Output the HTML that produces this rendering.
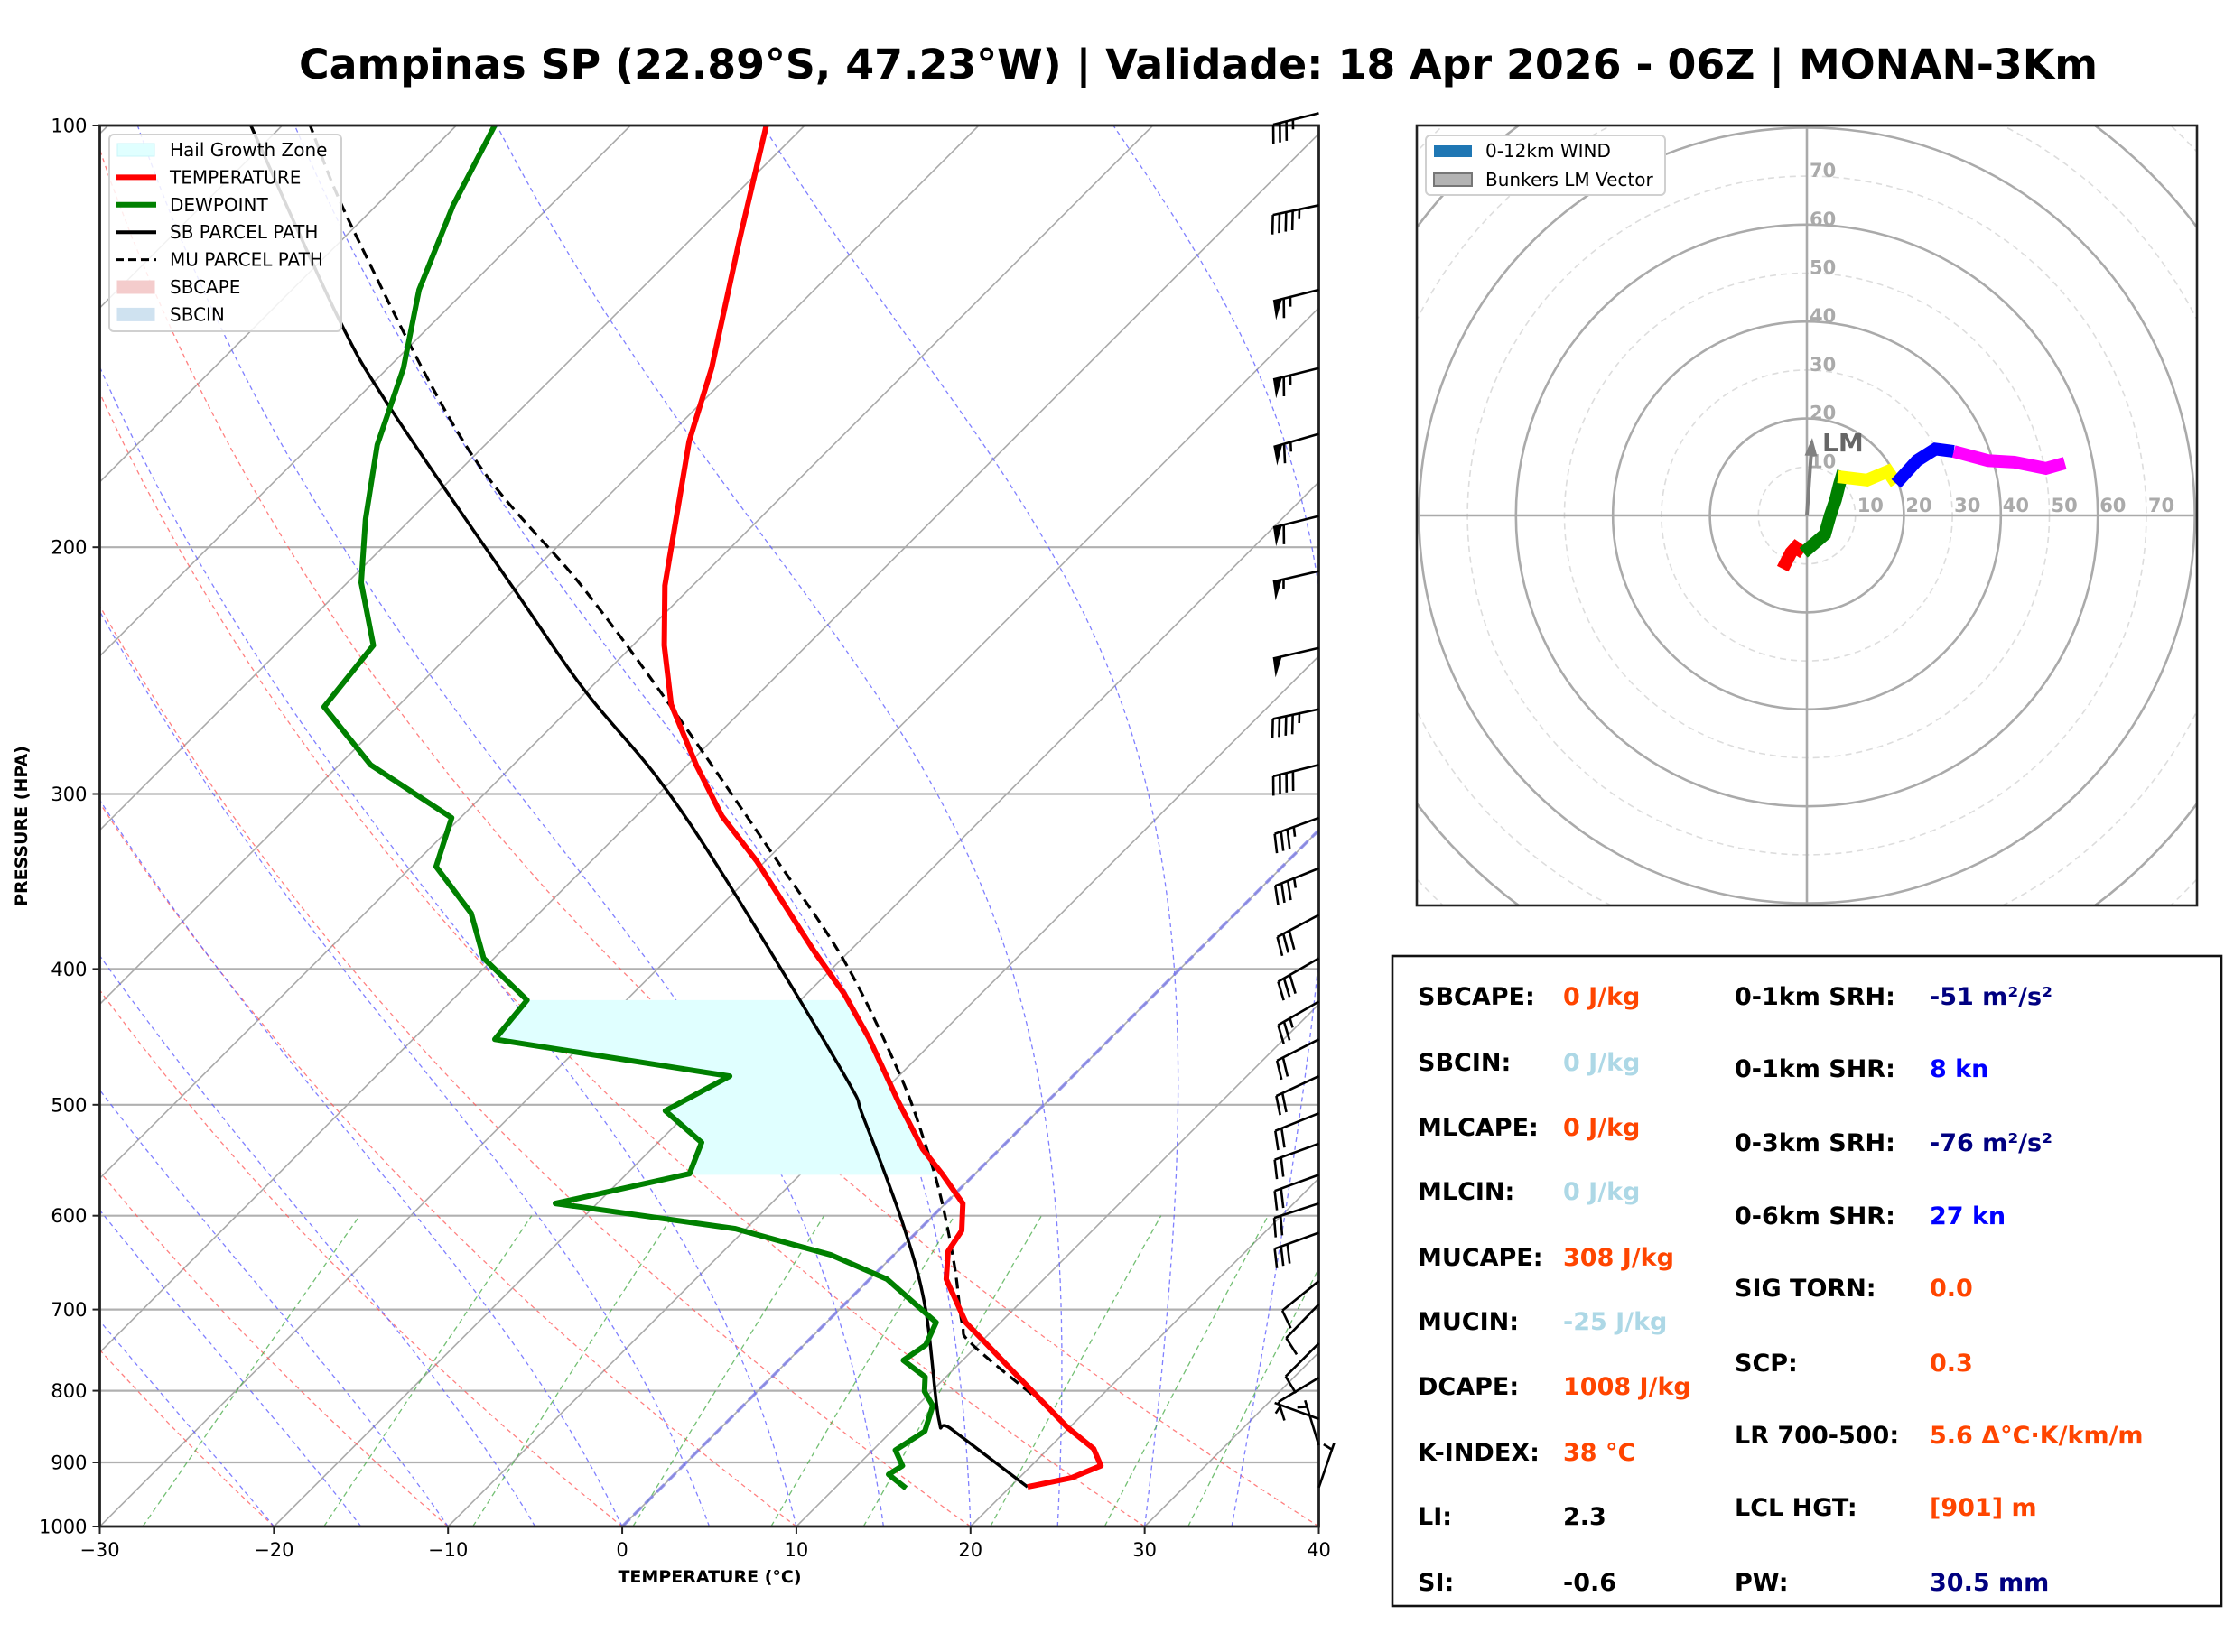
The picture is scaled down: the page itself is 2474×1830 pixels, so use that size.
<!DOCTYPE html>
<html><head><meta charset="utf-8"><title>Campinas SP Skew-T</title>
<style>
html,body{margin:0;padding:0;background:#fff;}
svg{display:block;font-family:"DejaVu Sans","Liberation Sans",sans-serif;}
</style></head>
<body>
<svg id="fig" xmlns="http://www.w3.org/2000/svg" width="2474" height="1830" viewBox="0 0 2474 1830">
<rect x="0" y="0" width="2474" height="1830" fill="#fff"/>
<text x="1327" y="87" text-anchor="middle" font-size="45" font-weight="bold" textLength="1992" lengthAdjust="spacingAndGlyphs">Campinas SP (22.89°S, 47.23°W) | Validade: 18 Apr 2026 - 06Z | MONAN-3Km</text>
<defs>
<clipPath id="skewClip"><rect x="110.5" y="139" width="1350" height="1552"/></clipPath>
<clipPath id="hodoClip"><rect x="1569" y="139" width="864" height="864"/></clipPath>
</defs>
<g id="skew"></g>
<g id="hodo"></g>
<g id="stats"></g>
</svg>
<script>
// ---------- Sounding data ----------
const tempP = [937,923,905,880,850,778,715,666,636,615,588,560,538,497,476,448,417,388,335,311,286,259,235,213,168,149,121,100];
const tempT = [21.0,23.0,24.0,22.6,19.9,13.8,8.0,4.4,2.9,2.5,1.0,-1.9,-4.4,-8.6,-10.8,-13.9,-17.8,-22.1,-30.5,-35.1,-39.5,-44.4,-48.2,-51.6,-58.5,-61.4,-67.1,-72.2];
const dewP = [939,918,905,882,855,820,801,782,761,742,715,666,640,613,588,560,532,505,477,449,421,393,365,338,312,286,260,235,212,191,169,149,131,114,100];
const dewT = [14.1,12.3,12.6,11.3,11.9,10.9,9.6,8.8,6.6,7.0,6.3,1.0,-3.6,-10.6,-22.4,-16.4,-17.5,-21.4,-19.7,-35.3,-35.7,-40.6,-43.9,-48.6,-50.5,-58.2,-64.2,-64.9,-69.2,-72.6,-76.2,-79.1,-82.7,-85.6,-87.8];
const sbP = [937,852,838,699,609,510,476,349,293,253,213,159,137,100];
const sbT = [21.0,13.3,12.0,4.9,-1.2,-9.7,-13.2,-30.6,-40.8,-50.2,-60.4,-77.6,-85.8,-101.8];
const muP = [819,742,717,653,585,533,476,395,330,259,213,170,119,100];
const muT = [17.3,9.7,7.9,4.2,-0.4,-4.6,-10.0,-19.7,-30.2,-44.5,-56.4,-70.8,-89.8,-98.4];
const hgzTop = 421;
const hgzBottom = 561;
const barbP = [98,114,131,149,166,190,208,236,261,286,312,339,366,393,422,449,477,507,533,561,588,617,668,694,740,783,838,875,938];
const barbDir = [256,258,256,256,254,256,257,257,258,256,250,248,242,240,240,243,245,248,250,250,252,250,231,224,225,239,290,343,19];
const barbSpd = [35,45,65,65,65,60,55,50,45,40,35,35,30,30,25,20,20,20,20,20,20,30,10,10,10,10,5,5,5];
const xTicks = [-30,-20,-10,0,10,20,30,40];
const yTicks = [100,200,300,400,500,600,700,800,900,1000];
// ---------- Hodograph data ----------
const hodoU = [-5,-3.3,-2.3,-0.7, -0.7,3.7,4.8,5.9,6.7,7.5, 6.4,12.4,16.7,18.4, 18.4,22.7,26.5,30.3, 30.3,37.4,42.8,49.3,53.2];
const hodoV = [-11,-7.7,-6.6,-7.7, -7.7,-3.9,0,3.2,6.4,9.1, 8,7.3,9.1,6.6, 6.6,11.3,13.7,13.2, 13.2,11.3,11,9.7,10.8];
const hodoSeg = [0,0,0,0, 1,1,1,1,1,1, 2,2,2,2, 3,3,3,3, 4,4,4,4,4];
const hodoColors = ['#ff0000','#008000','#ffff00','#0000ff','#ff00ff'];
const lmU = 1.1, lmV = 16;
const ringLabels = [10,20,30,40,50,60,70];

const NS='http://www.w3.org/2000/svg';
function mk(tag,attrs,parent){const e=document.createElementNS(NS,tag);for(const k in attrs)e.setAttribute(k,attrs[k]);if(parent)parent.appendChild(e);return e;}

// ---------- Skew-T axes ----------
const L=110.5,R=1460.5,TOP=139,B=1691,PPD=(R-L)/70;
function yOf(p){return B-Math.log10(1000/p)*(B-TOP);}
function xOf(T,p){return L+(T+30)*PPD+(B-yOf(p));}
function pts(P,T){return P.map((p,i)=>xOf(T[i],p).toFixed(1)+','+yOf(p).toFixed(1)).join(' ');}
function smoothPath(P,T){const q=P.map((p,i)=>[xOf(T[i],p),yOf(p)]);let d='M'+q[0][0].toFixed(1)+','+q[0][1].toFixed(1);
for(let i=0;i<q.length-1;i++){const p0=q[Math.max(0,i-1)],p1=q[i],p2=q[i+1],p3=q[Math.min(q.length-1,i+2)];
const c1=[p1[0]+(p2[0]-p0[0])/6,p1[1]+(p2[1]-p0[1])/6],c2=[p2[0]-(p3[0]-p1[0])/6,p2[1]-(p3[1]-p1[1])/6];
d+=' C'+c1[0].toFixed(1)+','+c1[1].toFixed(1)+' '+c2[0].toFixed(1)+','+c2[1].toFixed(1)+' '+p2[0].toFixed(1)+','+p2[1].toFixed(1);}return d;}
function interp(P,V,p){for(let i=0;i<P.length-1;i++){const a=P[i],b=P[i+1];if((p<=a&&p>=b)){const f=(Math.log(a)-Math.log(p))/(Math.log(a)-Math.log(b));return V[i]+f*(V[i+1]-V[i]);}}return V[V.length-1];}

const skew=document.getElementById('skew');
const clipG=mk('g',{'clip-path':'url(#skewClip)'},skew);



for(const p of yTicks){const ln=mk('line',{x1:L,x2:R,y1:yOf(p),y2:yOf(p),stroke:'#b0b0b0','stroke-width':2.2},clipG);

}
for(let T=-140;T<=40;T+=10){const ln=mk('line',{x1:xOf(T,1000),y1:B,x2:xOf(T,100),y2:TOP,stroke:'#aaaaaa','stroke-width':1.6},clipG);

}
for(let T0=-30;T0<=40;T0+=10){const th=T0+273.15;const a=[];for(let p=1000;p>=100;p-=10){a.push(xOf(th*Math.pow(p/1000,0.2857)-273.15,p).toFixed(1)+','+yOf(p).toFixed(1));}
const pl=mk('polyline',{points:a.join(' '),fill:'none',stroke:'#ff5555','stroke-opacity':0.75,'stroke-width':1.3,'stroke-dasharray':'5,4'},clipG);

}
function esat(Tc){return 6.112*Math.exp(17.67*Tc/(Tc+243.5));}
function dTdp(T,p){const es=esat(T-273.15);const rs=0.622*es/(p-es);const Rd=287.04,Cp=1005.7,Lv=2.501e6;return (Rd*T+Lv*rs)/(p*(Cp+Lv*Lv*rs*0.622/(Rd*T*T)));}
for(let T0=-20;T0<=45;T0+=5){let T=T0+273.15,p=1000;const a=[xOf(T0,1000).toFixed(1)+','+B];const dp=-5;
while(p>100){const k1=dTdp(T,p);const k2=dTdp(T+k1*dp,p+dp);T+=0.5*(k1+k2)*dp;p+=dp;a.push(xOf(T-273.15,p).toFixed(1)+','+yOf(p).toFixed(1));}
const pl=mk('polyline',{points:a.join(' '),fill:'none',stroke:'#5555ff','stroke-opacity':0.75,'stroke-width':1.3,'stroke-dasharray':'5,4'},clipG);

}
const mixW=[0.0004,0.001,0.002,0.004,0.007,0.01,0.016,0.024,0.032];
for(const w of mixW){const a=[];for(let p=1000;p>=600;p-=10){const e=p*w/(0.622+w);const l=Math.log(e/6.112);const Td=243.5*l/(17.67-l);a.push(xOf(Td,p).toFixed(1)+','+yOf(p).toFixed(1));}
const pl=mk('polyline',{points:a.join(' '),fill:'none',stroke:'#44aa44','stroke-opacity':0.75,'stroke-width':1.3,'stroke-dasharray':'6,4'},clipG);

}
const zl=mk('line',{x1:xOf(0,1000),y1:B,x2:xOf(0,100),y2:TOP,stroke:'#7777ee','stroke-opacity':0.7,'stroke-width':3.5,'stroke-dasharray':'12,6'},clipG);


{const a=[],b=[];for(let p=hgzBottom;p>=hgzTop;p-=1){a.push(xOf(interp(tempP,tempT,p),p).toFixed(1)+','+yOf(p).toFixed(1));b.push(xOf(interp(dewP,dewT,p),p).toFixed(1)+','+yOf(p).toFixed(1));}
const pg=mk('polygon',{points:a.concat(b.reverse()).join(' '),fill:'#e0ffff'},clipG);

}
const sbl=mk('path',{d:smoothPath(sbP,sbT),fill:'none',stroke:'#000','stroke-width':3.5,'stroke-linejoin':'round'},clipG);


const mul=mk('path',{d:smoothPath(muP,muT),fill:'none',stroke:'#000','stroke-width':3.2,'stroke-dasharray':'12,7'},clipG);


const dwl=mk('polyline',{points:pts(dewP,dewT),fill:'none',stroke:'#008000','stroke-width':6,'stroke-linejoin':'round'},clipG);


const tl=mk('polyline',{points:pts(tempP,tempT),fill:'none',stroke:'#ff0000','stroke-width':6,'stroke-linejoin':'round'},clipG);



const fr=mk('rect',{x:L,y:TOP,width:R-L,height:B-TOP,fill:'none',stroke:'#222','stroke-width':2.8},skew);


for(const t of xTicks){const x=L+(t+30)*PPD;
const tk=mk('line',{x1:x,x2:x,y1:B,y2:B+8,stroke:'#222','stroke-width':2},skew);


const tx=mk('text',{x:x,y:1724,'text-anchor':'middle','font-size':21},skew);tx.textContent=(t<0?'\u2212'+(-t):String(t));

}
for(const p of yTicks){const y=yOf(p);
const tk=mk('line',{x1:L-8,x2:L,y1:y,y2:y,stroke:'#222','stroke-width':2},skew);


const tx=mk('text',{x:L-14,y:y+7.5,'text-anchor':'end','font-size':21},skew);tx.textContent=String(p);

}
const xl=mk('text',{x:786,y:1753,'text-anchor':'middle','font-size':19,'font-weight':'bold'},skew);xl.textContent='TEMPERATURE (°C)';


const yl=mk('text',{x:0,y:0,'text-anchor':'middle','font-size':19,'font-weight':'bold',transform:'translate(30,915) rotate(-90)'},skew);yl.textContent='PRESSURE (HPA)';



function barb(i){const p=barbP[i],d=barbDir[i]*Math.PI/180,spd=barbSpd[i];
const ax=R,ay=yOf(p);const sx=Math.sin(d),sy=-Math.cos(d);const nx=sy,ny=-sx;const Ls=52,fl=21,sp=7.5;
const g=mk('g',{},skew);


const ex=ax+sx*Ls,ey=ay+sy*Ls;
mk('line',{x1:ax,y1:ay,x2:ex,y2:ey,stroke:'#000','stroke-width':2.6},g);
let rem=Math.round(spd/5)*5;let pos=0;
while(rem>=50){const px=ex-sx*pos,py=ey-sy*pos;const qx=px-sx*10,qy=py-sy*10;
mk('polygon',{points:`${px},${py} ${px+nx*fl+sx*2},${py+ny*fl+sy*2} ${qx},${qy}`,fill:'#000'},g);pos+=12;rem-=50;}
while(rem>=10){const px=ex-sx*pos,py=ey-sy*pos;mk('line',{x1:px,y1:py,x2:px+nx*fl+sx*5,y2:py+ny*fl+sy*5,stroke:'#000','stroke-width':2.6},g);pos+=sp;rem-=10;}
if(rem>=5){if(pos===0)pos=sp;const px=ex-sx*pos,py=ey-sy*pos;mk('line',{x1:px,y1:py,x2:px+nx*fl*0.5+sx*2.5,y2:py+ny*fl*0.5+sy*2.5,stroke:'#000','stroke-width':2.6},g);}
}
for(let i=0;i<barbP.length;i++)barb(i);

{const lg=mk('g',{},skew);


mk('rect',{x:121,y:149,width:257,height:218,rx:5,fill:'#fff','fill-opacity':0.85,stroke:'#d0d0d0','stroke-width':2},lg);
const items=[['Hail Growth Zone','patch','#e0ffff','#c8f4f8'],['TEMPERATURE','line','#ff0000',6],['DEWPOINT','line','#008000',6],['SB PARCEL PATH','line','#000',4],['MU PARCEL PATH','dash','#000',3],['SBCAPE','patch','#f4cccc','#f4cccc'],['SBCIN','patch','#cfe2f0','#cfe2f0']];
items.forEach((it,k)=>{const y=166+k*30.4;
if(it[1]==='patch'){mk('rect',{x:130,y:y-7,width:41,height:14,fill:it[2],stroke:it[3],'stroke-width':1},lg);}
else{const l=mk('line',{x1:128,x2:173,y1:y,y2:y,stroke:it[2],'stroke-width':it[3]},lg);if(it[1]==='dash')l.setAttribute('stroke-dasharray','9,5');}
const t=mk('text',{x:188,y:y+7,'font-size':20},lg);t.textContent=it[0];

});}

// ---------- Hodograph ----------
const hodo=document.getElementById('hodo');
const HX=1569,HY=139,HS=864,CX=HX+HS/2,CY=HY+HS/2,K=5.37;
const hc=mk('g',{'clip-path':'url(#hodoClip)'},hodo);


for(let r=10;r<=110;r+=10){const solid=(r%20===0);
const c=mk('circle',{cx:CX,cy:CY,r:r*K,fill:'none',stroke:solid?'#aaaaaa':'#dddddd','stroke-width':solid?2.6:1.6,'stroke-dasharray':solid?'none':'7,5'},hc);

}
{const a1=mk('line',{x1:HX,x2:HX+HS,y1:CY,y2:CY,stroke:'#aaaaaa','stroke-width':2.6},hc);


const a2=mk('line',{x1:CX,x2:CX,y1:HY,y2:HY+HS,stroke:'#aaaaaa','stroke-width':2.6},hc);

}
for(const r of ringLabels){
const t1=mk('text',{x:CX+r*K+2,y:CY-4,'font-size':21,'font-weight':'bold',fill:'#aaaaaa'},hc);t1.textContent=String(r);


const t2=mk('text',{x:CX+3,y:CY-r*K+1,'font-size':21,'font-weight':'bold',fill:'#aaaaaa'},hc);t2.textContent=String(r);

}
for(let s=0;s<hodoColors.length;s++){const a=[];for(let i=0;i<hodoU.length;i++)if(hodoSeg[i]===s)a.push((CX+hodoU[i]*K).toFixed(1)+','+(CY-hodoV[i]*K).toFixed(1));
const pl=mk('polyline',{points:a.join(' '),fill:'none',stroke:hodoColors[s],'stroke-width':14,'stroke-linejoin':'miter','stroke-linecap':'butt'},hc);

}
{const ex=CX+lmU*K,ey=CY-lmV*K;const ang=Math.atan2(ey-CY,ex-CX);const hl=20,hw=7;
const lm=mk('g',{},hc);


const bx=ex-Math.cos(ang)*hl,by=ey-Math.sin(ang)*hl;
mk('line',{x1:CX,y1:CY,x2:bx,y2:by,stroke:'#808080','stroke-width':4},lm);
mk('polygon',{points:`${ex},${ey} ${bx-Math.sin(ang)*hw},${by+Math.cos(ang)*hw} ${bx+Math.sin(ang)*hw},${by-Math.cos(ang)*hw}`,fill:'#808080'},lm);
const t=mk('text',{x:CX+17,y:CY-71,'font-size':28,'font-weight':'bold',fill:'#666666'},hc);t.textContent='LM';

}
{const f=mk('rect',{x:HX,y:HY,width:HS,height:HS,fill:'none',stroke:'#222','stroke-width':2.6},hodo);


const lg=mk('g',{},hodo);


mk('rect',{x:1579,y:150,width:265,height:66,rx:5,fill:'#fff',stroke:'#d0d0d0','stroke-width':2},lg);
mk('rect',{x:1588,y:161,width:42,height:13,fill:'#1f77b4'},lg);
mk('rect',{x:1588,y:192,width:42,height:14,fill:'#b3b3b3',stroke:'#777','stroke-width':2},lg);
const t1=mk('text',{x:1645,y:174,'font-size':20},lg);t1.textContent='0-12km WIND';


const t2=mk('text',{x:1645,y:206,'font-size':20},lg);t2.textContent='Bunkers LM Vector';

}

// ---------- Stats panel ----------
const stats=document.getElementById('stats');
{const f=mk('rect',{x:1542,y:1059,width:918,height:720,fill:'#fff',stroke:'#111','stroke-width':2.6},stats);

}
const OR='#ff4500',LB='#add8e6',NV='#000080',BL='#0000ff',BK='#000000';
const leftLabels=['SBCAPE:','SBCIN:','MLCAPE:','MLCIN:','MUCAPE:','MUCIN:','DCAPE:','K-INDEX:','LI:','SI:'];
const leftVals=['0 J/kg','0 J/kg','0 J/kg','0 J/kg','308 J/kg','-25 J/kg','1008 J/kg','38 °C','2.3','-0.6'];
const leftCols=[OR,LB,OR,LB,OR,LB,OR,OR,BK,BK];
const leftY=[1103,1176,1248,1319,1392,1463,1535,1608,1679,1752];
const rightLabels=['0-1km SRH:','0-1km SHR:','0-3km SRH:','0-6km SHR:','SIG TORN:','SCP:','LR 700-500:','LCL HGT:','PW:'];
const rightVals=['-51 m²/s²','8 kn','-76 m²/s²','27 kn','0.0','0.3','5.6 Δ°C·K/km/m','[901] m','30.5 mm'];
const rightCols=[NV,BL,NV,BL,OR,OR,OR,OR,NV];
const rightY=[1103,1183,1265,1346,1426,1509,1589,1669,1752];
leftLabels.forEach((l,i)=>{const a=mk('text',{x:1570,y:leftY[i]+10,'font-size':27,'font-weight':'bold',fill:'#000'},stats);a.textContent=l;


const b=mk('text',{x:1731,y:leftY[i]+10,'font-size':27,'font-weight':'bold',fill:leftCols[i]},stats);b.textContent=leftVals[i];

});
rightLabels.forEach((l,i)=>{const a=mk('text',{x:1921,y:rightY[i]+10,'font-size':27,'font-weight':'bold',fill:'#000'},stats);a.textContent=l;


const b=mk('text',{x:2137,y:rightY[i]+10,'font-size':27,'font-weight':'bold',fill:rightCols[i]},stats);b.textContent=rightVals[i];

});
</script>
</body></html>
